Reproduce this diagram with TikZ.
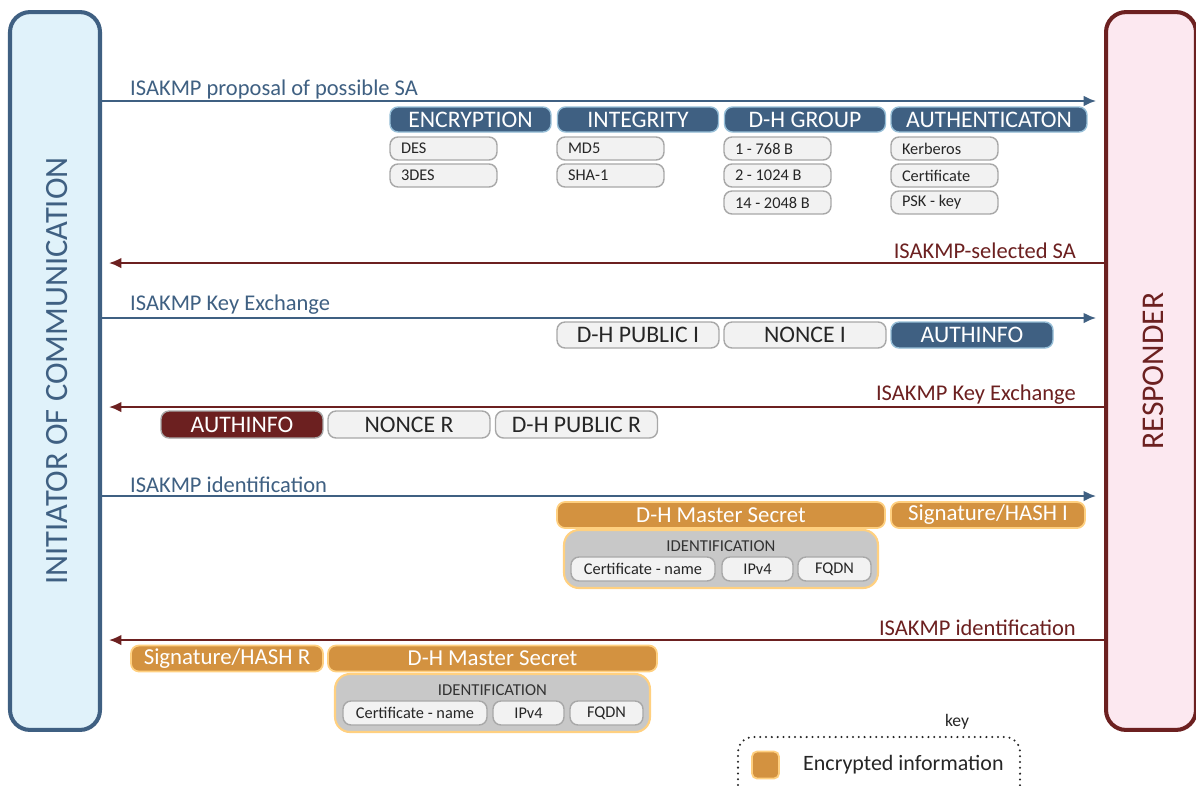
\documentclass[tikz,border=0pt]{standalone}
\usepackage{fontspec}
\setmainfont{Carlito}
\usepackage{tikz}
\usetikzlibrary{arrows.meta}

\definecolor{iniblue}{RGB}{63,96,130}
\definecolor{inifill}{RGB}{224,242,250}
\definecolor{resred}{RGB}{108,32,32}
\definecolor{resfill}{RGB}{252,232,240}
\definecolor{encorange}{RGB}{211,146,64}
\definecolor{encedge}{RGB}{255,208,128}
\definecolor{itemfill}{RGB}{242,242,242}
\definecolor{itemedge}{RGB}{168,168,168}
\definecolor{idfill}{RGB}{200,200,200}
\definecolor{hdredge}{RGB}{150,190,215}

\tikzset{
  party/.style={draw, line width=2.3pt, rounded corners=0.4cm, minimum width=1.8cm, minimum height=14.36cm},
  toresp/.style={iniblue, line width=1.1pt, -{Latex[length=7pt,width=6pt]}, shorten >=0.16cm},
  toinit/.style={resred, line width=1.1pt, -{Latex[length=7pt,width=6pt]}, shorten >=0.14cm},
  msgI/.style={iniblue, font=\fontsize{12.8}{14}\selectfont},
  msgR/.style={resred, font=\fontsize{12.8}{14}\selectfont},
  hdr/.style={draw=hdredge, fill=iniblue, text=white, line width=0.8pt, rounded corners=0.16cm,
    minimum width=3.22cm, minimum height=0.5cm, inner sep=0pt, font=\fontsize{13.5}{14}\selectfont},
  hdrR/.style={hdr, fill=resred, draw=itemedge},
  item/.style={draw=itemedge, fill=itemfill, line width=0.8pt, rounded corners=0.16cm,
    text width=1.7cm, inner xsep=0.22cm, inner ysep=0pt, minimum height=0.46cm, align=flush left,
    text=black!85, font=\fontsize{9.3}{10}\selectfont},
  field/.style={draw=itemedge, fill=itemfill, line width=0.8pt, rounded corners=0.16cm,
    minimum width=3.24cm, minimum height=0.52cm, inner sep=0pt, text=black!85, font=\fontsize{13.5}{14}\selectfont},
  secret/.style={draw=encedge, fill=encorange, text=white, line width=1pt, rounded corners=0.16cm,
    minimum height=0.52cm, inner sep=0pt, font=\fontsize{13}{14}\selectfont},
  idbox/.style={draw=encedge, fill=idfill, line width=1.2pt, rounded corners=0.3cm,
    minimum width=6.28cm, minimum height=1.16cm, inner sep=0pt},
  idname/.style={text=black!80, font=\fontsize{9.5}{10}\selectfont},
  idpart/.style={draw=itemedge, fill=itemfill, line width=0.8pt, rounded corners=0.16cm,
    minimum height=0.48cm, inner sep=0pt, text=black!85, font=\fontsize{9.3}{10}\selectfont},
}

\begin{document}
\begin{tikzpicture}[x=0.02cm, y=-0.02cm]
\clip (0,0) rectangle (1196,785);
\fill[white] (0,0) rectangle (1196,785);

\node[party, draw=iniblue, fill=inifill] (init) at (55,371) {};
\node[rotate=90, iniblue, font=\fontsize{18.5}{20}\selectfont] (initname) at (57,371) {INITIATOR OF COMMUNICATION};
\node[party, draw=resred, fill=resfill] (resp) at (1151,371) {};
\node[rotate=90, resred, font=\fontsize{18}{20}\selectfont] (respname) at (1153,371) {RESPONDER};

\coordinate (m1) at (0,101);
\coordinate (m2) at (0,263);
\coordinate (m3) at (0,318);
\coordinate (m4) at (0,407);
\coordinate (m5) at (0,496);
\coordinate (m6) at (0,640);

\draw[toresp] (init.east |- m1) -- (resp.west |- m1);
\draw[toinit] (resp.west |- m2) -- (init.east |- m2);
\draw[toresp] (init.east |- m3) -- (resp.west |- m3);
\draw[toinit] (resp.west |- m4) -- (init.east |- m4);
\draw[toresp] (init.east |- m5) -- (resp.west |- m5);
\draw[toinit] (resp.west |- m6) -- (init.east |- m6);

\node[msgI, anchor=west] (l1) at (124,89) {ISAKMP proposal of possible SA};
\node[msgR, anchor=east] (l2) at (1082,251) {ISAKMP-selected SA};
\node[msgI, anchor=west] (l3) at (124,305) {ISAKMP Key Exchange};
\node[msgR, anchor=east] (l4) at (1082,395) {ISAKMP Key Exchange};
\node[msgI, anchor=west] (l5) at (124,485) {ISAKMP identification};
\node[msgR, anchor=east] (l6) at (1082,628) {ISAKMP identification};

\node[hdr] (enc) at (470.5,119.5) {ENCRYPTION};
\node[hdr] (integ) at (638,119.5) {INTEGRITY};
\node[hdr] (dhgrp) at (805,119.5) {D-H GROUP};
\node[hdr, minimum width=3.92cm] (authn) at (989,119.5) {AUTHENTICATON};

\node[item] (des) at (443.5,148.5) {DES};
\node[item] (tdes) at (443.5,175.5) {3DES};
\node[item] (md5) at (610.5,148.5) {MD5};
\node[item] (sha) at (610.5,175.5) {SHA-1};
\node[item] (g1) at (777.5,148.5) {1 - 768 B};
\node[item] (g2) at (777.5,175.5) {2 - 1024 B};
\node[item] (g14) at (777.5,202.5) {14 - 2048 B};
\node[item] (kerb) at (944.5,148.5) {Kerberos};
\node[item] (cert) at (944.5,175.5) {Certificate};
\node[item] (psk) at (944.5,202.5) {PSK - key};

\node[field] (dhpubI) at (638,335) {D-H PUBLIC I};
\node[field] (nonceI) at (805,335) {NONCE I};
\node[hdr, minimum width=3.24cm, minimum height=0.52cm] (authI) at (972,335) {AUTHINFO};

\node[hdrR, minimum width=3.24cm, minimum height=0.54cm] (authR) at (242,424.5) {AUTHINFO};
\node[field, minimum height=0.54cm] (nonceR) at (409,424.5) {NONCE R};
\node[field, minimum height=0.54cm] (dhpubR) at (576.5,424.5) {D-H PUBLIC R};

\node[secret, minimum width=6.56cm] (mastI) at (721,515) {D-H Master Secret};
\node[secret, minimum width=3.88cm] (sigI) at (988,515) {Signature/HASH I};
\node[idbox] (idI) at (721,559) {};
\node[idname] (idIname) at (721,546) {IDENTIFICATION};
\node[idpart, minimum width=2.88cm] (cnI) at (643,569) {Certificate - name};
\node[idpart, minimum width=1.42cm] (ipI) at (757.5,569) {IPv4};
\node[idpart, minimum width=1.46cm] (fqI) at (834.5,569) {FQDN};

\node[secret, minimum width=3.84cm] (sigR) at (227,658.5) {Signature/HASH R};
\node[secret, minimum width=6.58cm] (mastR) at (492.5,658.5) {D-H Master Secret};
\node[idbox, minimum width=6.3cm] (idR) at (492.5,703) {};
\node[idname] (idRname) at (492.5,690) {IDENTIFICATION};
\node[idpart, minimum width=2.88cm] (cnR) at (415,713) {Certificate - name};
\node[idpart, minimum width=1.42cm] (ipR) at (528.5,713) {IPv4};
\node[idpart, minimum width=1.46cm] (fqR) at (606.5,713) {FQDN};

\node[text=black!85, font=\fontsize{10}{11}\selectfont] (keyname) at (957,722) {key};
\draw[black!85, line width=1.3pt, line cap=round, dash pattern=on 0pt off 3.3pt, rounded corners=0.3cm] (738,800) rectangle (1020,737);
\node[secret, minimum width=0.54cm, minimum height=0.54cm, rounded corners=0.1cm] (keyswatch) at (765.5,765) {};
\node[anchor=west, text=black!85, font=\fontsize{12.5}{14}\selectfont] (keytext) at (797,765) {Encrypted information};
\end{tikzpicture}
\end{document}
